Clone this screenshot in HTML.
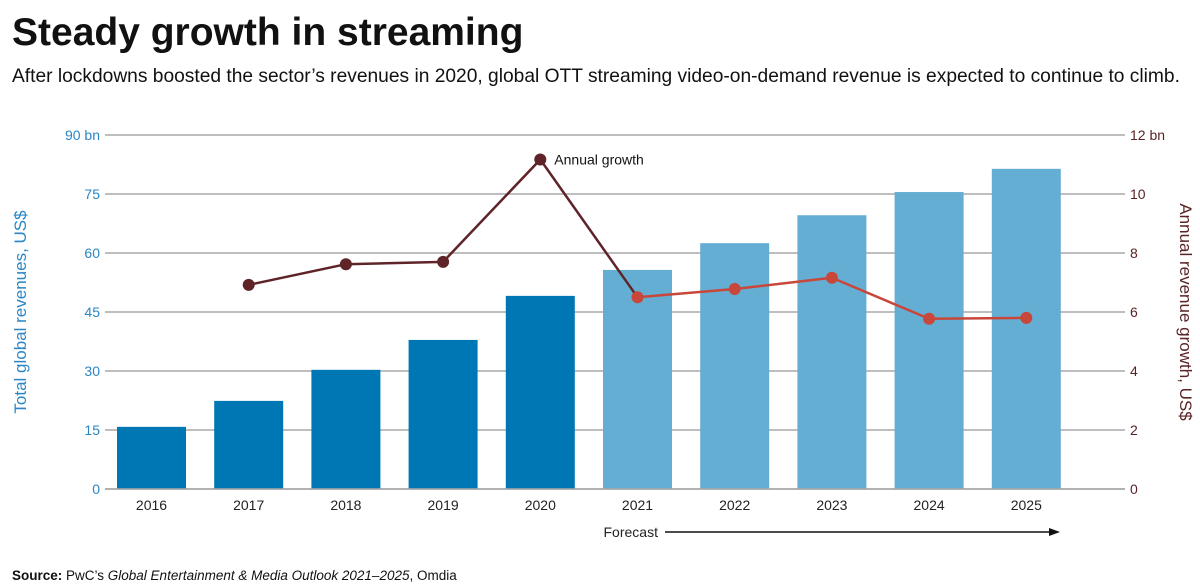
<!DOCTYPE html>
<html><head><meta charset="utf-8">
<style>
body{margin:0;background:#fff;font-family:"Liberation Sans",sans-serif;}
#wrap{position:relative;width:1200px;height:587px;overflow:hidden;}
h1{position:absolute;left:12px;top:11px;margin:0;font-size:39px;font-weight:bold;color:#111;letter-spacing:0px;}
.sub{position:absolute;left:12px;top:66px;font-size:19.2px;color:#111;white-space:nowrap;}
.src{position:absolute;left:12px;top:568px;font-size:13.5px;color:#111;}
svg{position:absolute;left:0;top:0;}
</style></head><body>
<div id="wrap">
<h1>Steady growth in streaming</h1>
<div class="sub">After lockdowns boosted the sector’s revenues in 2020, global OTT streaming video-on-demand revenue is expected to continue to climb.</div>
<svg id="chart" width="1200" height="587"></svg>
<div class="src"><b>Source:</b> PwC’s <i>Global Entertainment &amp; Media Outlook 2021–2025</i>, Omdia</div>
</div>
<script>
const years=["2016","2017","2018","2019","2020","2021","2022","2023","2024","2025"];
const revenues=[15.8,22.4,30.3,37.9,49.1,55.7,62.5,69.6,75.5,81.4];
const growth=[null,6.92,7.62,7.7,11.17,6.5,6.78,7.16,5.77,5.8];
const leftTicks=[0,15,30,45,60,75,90];
const rightTicks=[0,2,4,6,8,10,12];
const forecastStart=5;

const NS="http://www.w3.org/2000/svg";
const svg=document.getElementById('chart');
function mk(tag,attrs,parent){const e=document.createElementNS(NS,tag);for(const k in attrs)e.setAttribute(k,attrs[k]);(parent||svg).appendChild(e);return e;}
const y0=489,yTop=135,x0=105,x1=1115;
const yL=v=>y0-(v/90)*(y0-yTop);
const yR=v=>y0-(v/12)*(y0-yTop);
const xC=i=>151.5+i*97.2;
const bw=69;

leftTicks.forEach((t,i)=>{
  const y=yL(t);
  const g=mk('line',{x1:x0,x2:x1+10,y1:y,y2:y,stroke:'#a8a8a8','stroke-width':1.5});
  
  const lt=mk('text',{x:100,y:y+5,'text-anchor':'end','font-size':14,fill:'#2a86c4'});
  lt.textContent=t+(i===leftTicks.length-1?' bn':'');
  
});
rightTicks.forEach((t,i)=>{
  const y=yR(t);
  const rt=mk('text',{x:1130,y:y+5,'font-size':14,fill:'#5a2326'});
  rt.textContent=t+(i===rightTicks.length-1?' bn':'');
  
});
revenues.forEach((v,i)=>{
  const b=mk('rect',{x:xC(i)-bw/2,y:yL(v),width:bw,height:yL(0)-yL(v),fill:i>=forecastStart?'#65aed3':'#0077b5'});
  
  const t=mk('text',{x:xC(i),y:510,'text-anchor':'middle','font-size':14,fill:'#222'});
  t.textContent=years[i];
  
});
mk('line',{x1:x0,x2:x1+10,y1:y0,y2:y0,stroke:'#a8a8a8','stroke-width':1.5});
function seg(a,b,col){
  const l=mk('line',{x1:xC(a),y1:yR(growth[a]),x2:xC(b),y2:yR(growth[b]),stroke:col,'stroke-width':2.5});
  
}
for(let i=1;i<growth.length-1;i++){if(growth[i]!=null&&growth[i+1]!=null)seg(i,i+1,i+1>forecastStart?'#c8473a':'#5e2428');}
growth.forEach((v,i)=>{
  if(v==null)return;
  const c=mk('circle',{cx:xC(i),cy:yR(v),r:6,fill:i>=forecastStart?'#c8473a':'#5e2428'});
  
});
const peak=growth.indexOf(Math.max(...growth.filter(v=>v!=null)));
const ag=mk('text',{x:xC(peak)+14,y:yR(growth[peak])+5,'font-size':14,fill:'#111'});
ag.textContent='Annual growth';

const lt=mk('text',{transform:'translate(26,312) rotate(-90)','text-anchor':'middle','font-size':17,fill:'#2a86c4'});
lt.textContent='Total global revenues, US$';

const rt=mk('text',{transform:'translate(1180,312) rotate(90)','text-anchor':'middle','font-size':17,fill:'#5a2326'});
rt.textContent='Annual revenue growth, US$';

const ft=mk('text',{x:xC(forecastStart)-34,y:537,'font-size':14,fill:'#222'});
ft.textContent='Forecast';

const fa=mk('line',{x1:665,y1:532,x2:1050,y2:532,stroke:'#111','stroke-width':1.5});

const ah=mk('polygon',{points:'1060,532 1049,528 1049,536',fill:'#111'});

</script>
</body></html>
